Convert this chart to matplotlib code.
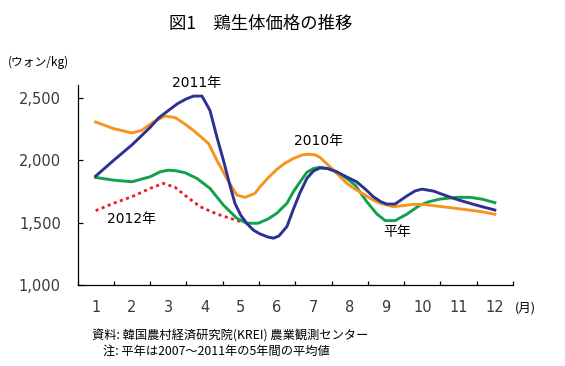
import matplotlib
matplotlib.use("Agg")
import matplotlib.pyplot as plt
from matplotlib.ticker import FixedLocator, FuncFormatter

plt.rcParams['font.family'] = ['DejaVu Sans', 'Noto Sans CJK JP']

# ---- data (month position, price won/kg) ----
months = list(range(1, 13))
month_labels = [str(m) for m in months]
y_ticks = [1000, 1500, 2000, 2500]

x2011 = [1.0, 1.5, 2.0, 2.5, 2.75, 3.0, 3.25, 3.5, 3.7, 3.93, 4.15, 4.34, 4.52, 4.7, 4.84,
         5.0, 5.16, 5.35, 5.53, 5.75, 5.9, 6.05, 6.27, 6.45, 6.63, 6.82, 7.0, 7.18, 7.4,
         7.64, 7.9, 8.19, 8.45, 8.65, 8.85, 9.02, 9.25, 9.57, 9.8, 9.99, 10.31, 10.6,
         10.86, 11.15, 11.41, 11.7, 12.0]
y2011 = [1874, 2002, 2125, 2265, 2345, 2400, 2455, 2495, 2517, 2517, 2402, 2189, 2002, 1800, 1654,
         1560, 1496, 1440, 1410, 1385, 1376, 1394, 1469, 1610, 1740, 1856, 1915, 1940, 1935,
         1909, 1870, 1829, 1765, 1709, 1670, 1650, 1650, 1714, 1755, 1770, 1754, 1723,
         1696, 1670, 1648, 1625, 1602]

x2010 = [1.0, 1.49, 2.0, 2.27, 2.59, 2.91, 3.19, 3.45, 3.69, 3.9, 4.11, 4.34, 4.61, 4.89, 5.12,
         5.39, 5.53, 5.75, 5.99, 6.2, 6.45, 6.7, 6.86, 7.05, 7.18, 7.46, 7.7, 7.92, 8.15,
         8.38, 8.6, 8.84, 9.2, 9.5, 9.75, 10.1, 10.4, 10.8, 11.13, 11.6, 12.0]
y2010 = [2309, 2256, 2221, 2242, 2309, 2357, 2344, 2295, 2242, 2190, 2136, 2002, 1856, 1722, 1704,
         1736, 1789, 1860, 1928, 1975, 2016, 2045, 2050, 2045, 2025, 1949, 1880, 1816, 1770,
         1730, 1690, 1656, 1629, 1638, 1648, 1645, 1634, 1620, 1608, 1590, 1568]

xavg = [1.0, 1.49, 2.0, 2.5, 2.78, 3.0, 3.2, 3.47, 3.79, 4.15, 4.52, 4.89, 5.16, 5.48, 5.75,
        5.99, 6.27, 6.45, 6.59, 6.82, 7.0, 7.18, 7.4, 7.64, 7.9, 8.15, 8.3, 8.47, 8.75,
        8.98, 9.25, 9.57, 9.94, 10.2, 10.49, 10.95, 11.32, 11.67, 12.0]
yavg = [1864, 1842, 1829, 1869, 1909, 1922, 1918, 1901, 1856, 1776, 1642, 1536, 1496, 1496, 1530,
        1576, 1656, 1750, 1810, 1905, 1935, 1946, 1935, 1909, 1860, 1802, 1740, 1669, 1570,
        1517, 1517, 1568, 1642, 1670, 1690, 1704, 1704, 1688, 1661]

x2012 = [1.0, 1.49, 2.04, 2.5, 2.87, 3.19, 3.51, 3.88, 4.34, 4.7, 5.0]
y2012 = [1597, 1656, 1714, 1776, 1816, 1784, 1709, 1629, 1570, 1536, 1509]

# ---- figure ----
fig = plt.figure(figsize=(5.65, 3.66), dpi=100)
ax = fig.add_axes([77.5 / 565, 1 - 285 / 366, (513 - 77.5) / 565, (285 - 85) / 366])

c_blue = '#2E3192'
c_orange = '#F7941D'
c_green = '#12A14B'
c_red = '#EE1C25'

ax.plot(x2012, y2012, color=c_red, lw=2.0, linestyle=(0, (1.1, 1.25)), zorder=2)
ax.plot(xavg, yavg, color=c_green, lw=2.1, zorder=3)
ax.plot(x2010, y2010, color=c_orange, lw=2.1, zorder=4)
ax.plot(x2011, y2011, color=c_blue, lw=2.1, zorder=5)

ax.set_xlim(0.5, 12.5)
ax.set_ylim(1000, 2606)

for s in ['top', 'right']:
    ax.spines[s].set_visible(False)
for s in ['left', 'bottom']:
    ax.spines[s].set_linewidth(0.9)
    ax.spines[s].set_color('black')

# x: tick marks at month boundaries, labels at month centres
ax.xaxis.set_major_locator(FixedLocator([m + 0.5 for m in range(0, 13)]))
ax.xaxis.set_major_formatter(FuncFormatter(lambda v, p: ''))
ax.xaxis.set_minor_locator(FixedLocator(months))
ax.set_xticks(months, minor=True)
ax.set_xticklabels(month_labels, minor=True)
ax.tick_params(axis='x', which='major', direction='in', length=3, width=0.9)
ax.tick_params(axis='x', which='minor', length=0, pad=11, labelsize=10.5, labelcolor='#3a3a3a')

ax.set_yticks(y_ticks)
ax.set_yticklabels([f'{v:,}' for v in y_ticks])
ax.tick_params(axis='y', direction='in', length=3.5, width=0.9, pad=12,
               labelsize=10.5, labelcolor='#3a3a3a')

# series labels
ax.text(3.78, 2626, '2011年', ha='center', va='center', fontsize=10, clip_on=False)
ax.text(7.13, 2154, '2010年', ha='center', va='center', fontsize=10)
ax.text(9.32, 1429, '平年', ha='center', va='center', fontsize=10,
        family=['Noto Sans CJK JP', 'DejaVu Sans'])
ax.text(2.0, 1530, '2012年', ha='center', va='center', fontsize=10)

# titles / units / notes
fig.text(261 / 565, 1 - 24 / 366, '図1\u3000鶏生体価格の推移', ha='center', va='center',
         fontsize=12.5, family=['Noto Sans CJK JP', 'DejaVu Sans'])
fig.text(8 / 565, 1 - 62 / 366, '(ウォン/kg)', ha='left', va='center', fontsize=8.5,
         family=['Noto Sans CJK JP', 'DejaVu Sans'])
fig.text(515 / 565, 1 - 308 / 366, '(月)', ha='left', va='center', fontsize=9,
         family=['Noto Sans CJK JP', 'DejaVu Sans'])
fig.text(92 / 565, 1 - 336 / 366, '資料: 韓国農村経済研究院(KREI) 農業観測センター',
         ha='left', va='center', fontsize=8.8, family=['Noto Sans CJK JP', 'DejaVu Sans'])
fig.text(103 / 565, 1 - 351 / 366, '注: 平年は2007～2011年の5年間の平均値',
         ha='left', va='center', fontsize=8.8, family=['Noto Sans CJK JP', 'DejaVu Sans'])

fig.savefig('out.png', dpi=100)
